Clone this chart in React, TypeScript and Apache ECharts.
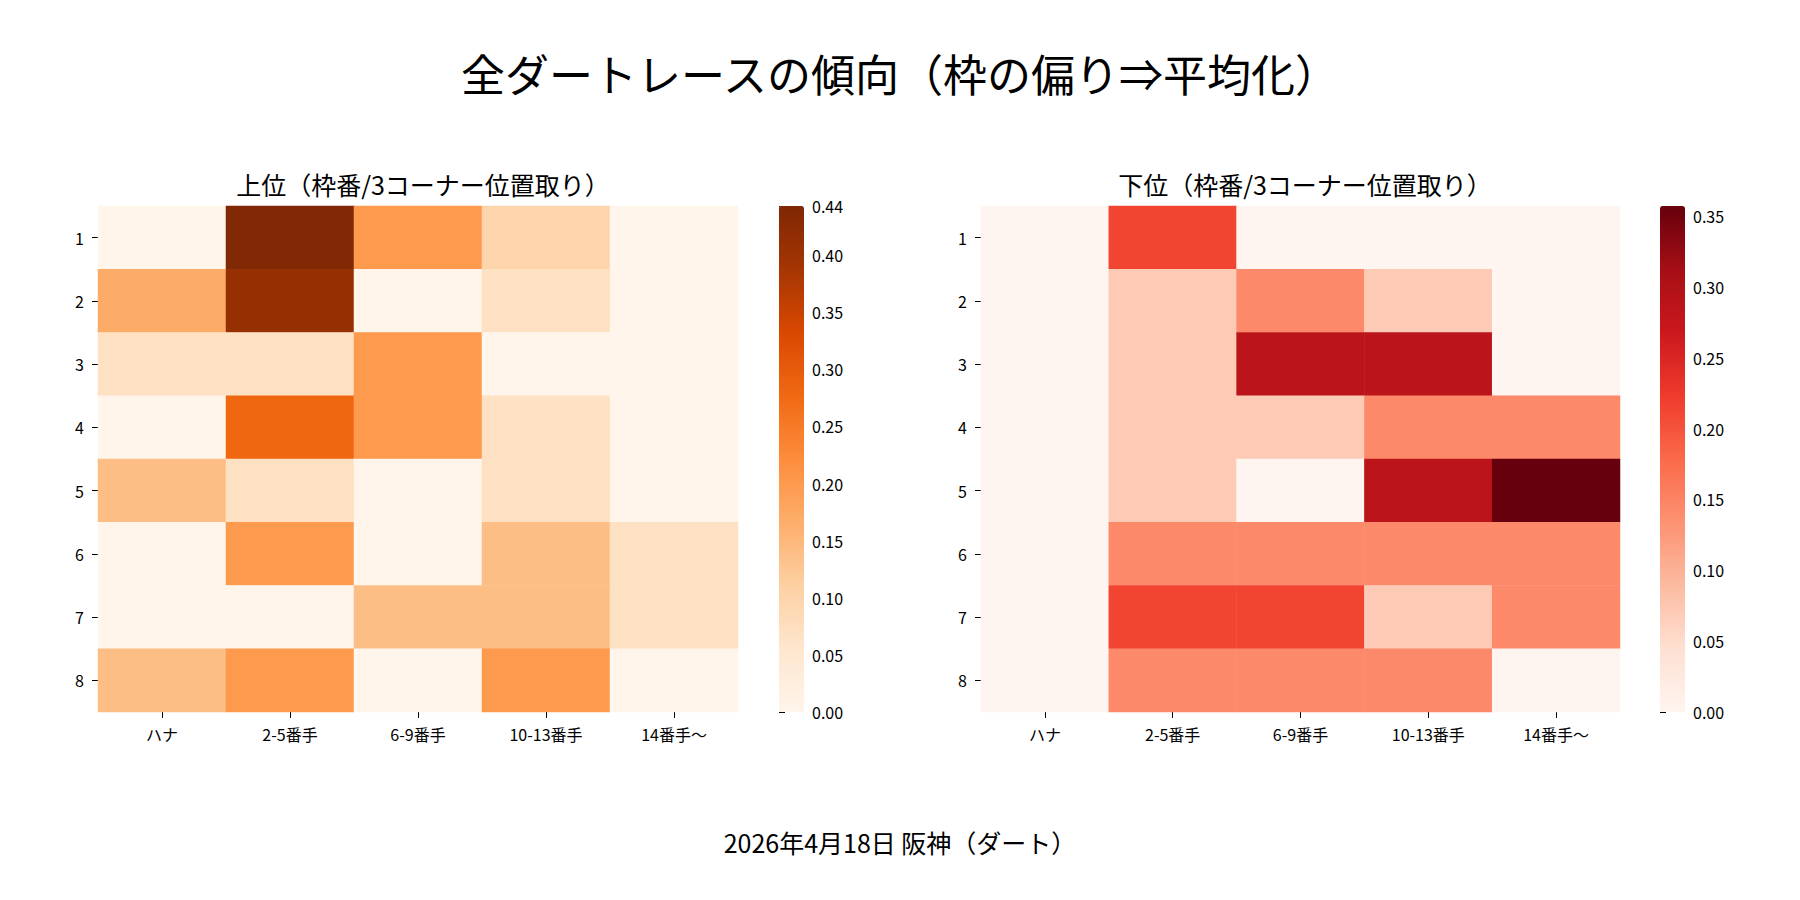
import { useEffect, useRef } from 'react';
import * as echarts from 'echarts';

const cols = ['ハナ', '2-5番手', '6-9番手', '10-13番手', '14番手〜'];
const rows = ['1', '2', '3', '4', '5', '6', '7', '8'];

const upper = [
  [0, 0.44, 0.2, 0.1, 0],
  [0.17, 0.41, 0, 0.07, 0],
  [0.07, 0.07, 0.2, 0, 0],
  [0, 0.28, 0.2, 0.07, 0],
  [0.14, 0.07, 0, 0.07, 0],
  [0, 0.2, 0, 0.14, 0.07],
  [0, 0, 0.14, 0.14, 0.07],
  [0.14, 0.2, 0, 0.2, 0],
];
const lower = [
  [0, 0.214, 0, 0, 0],
  [0, 0.071, 0.143, 0.071, 0],
  [0, 0.071, 0.286, 0.286, 0],
  [0, 0.071, 0.071, 0.143, 0.143],
  [0, 0.071, 0, 0.286, 0.357],
  [0, 0.143, 0.143, 0.143, 0.143],
  [0, 0.214, 0.214, 0.071, 0.143],
  [0, 0.143, 0.143, 0.143, 0],
];
const upperMax = 0.443;
const lowerMax = 0.357;

const oranges = ['#fff5eb', '#fee6ce', '#fdd0a2', '#fdae6b', '#fd8d3c', '#f16913', '#d94801', '#a63603', '#7f2704'];
const reds = ['#fff5f0', '#fee0d2', '#fcbba1', '#fc9272', '#fb6a4a', '#ef3b2c', '#cb181d', '#a50f15', '#67000d'];

const FONT = '"Noto Sans CJK JP", "Noto Sans", sans-serif';

const toCells = (m: number[][]) =>
  m.flatMap((r, ri) => r.map((v, ci) => [ci, ri, v]));

export default function App() {
  const ref = useRef<HTMLDivElement>(null);

  useEffect(() => {
    if (!ref.current) return;
    const chart = echarts.init(ref.current, null, { renderer: 'svg' });

    const top = 198;
    const h = 506;
    const heatGrids = [
      { left: 90, top, width: 640, height: h },
      { left: 973, top, width: 639, height: h },
    ];
    const barGrids = [
      { left: 771, top, width: 25, height: h },
      { left: 1652, top, width: 25, height: h },
    ];
    const axisLabel = { color: '#000', fontSize: 16, fontFamily: FONT };
    const tickStyle = { show: true, length: 6, lineStyle: { color: '#000' } };

    const option: echarts.EChartsOption = {
      animation: false,
      textStyle: { fontFamily: FONT },
      title: [
        { text: '全ダートレースの傾向（枠の偏り⇒平均化）', left: 'center', top: 38, textStyle: { fontSize: 44, fontWeight: 'normal', color: '#000', fontFamily: FONT } },
        { text: '上位（枠番/3コーナー位置取り）', left: 410, textAlign: 'center', top: 158, textStyle: { fontSize: 25, fontWeight: 'normal', color: '#000', fontFamily: FONT } },
        { text: '下位（枠番/3コーナー位置取り）', left: 1292, textAlign: 'center', top: 158, textStyle: { fontSize: 25, fontWeight: 'normal', color: '#000', fontFamily: FONT } },
        { text: '2026年4月18日 阪神（ダート）', left: 'center', top: 816, textStyle: { fontSize: 25, fontWeight: 'normal', color: '#000', fontFamily: FONT } },
      ],
      grid: [...heatGrids, ...barGrids],
      xAxis: [
        ...[0, 1].map((i) => ({
          type: 'category' as const, gridIndex: i, data: cols,
          axisLine: { show: false }, axisTick: { ...tickStyle, alignWithLabel: true },
          axisLabel: { ...axisLabel, margin: 14 }, splitLine: { show: false },
        })),
        ...[2, 3].map((i) => ({ type: 'value' as const, gridIndex: i, show: false })),
      ],
      yAxis: [
        ...[0, 1].map((i) => ({
          type: 'category' as const, gridIndex: i, data: rows, inverse: true,
          axisLine: { show: false }, axisTick: { ...tickStyle, alignWithLabel: true },
          axisLabel: { ...axisLabel, margin: 14 }, splitLine: { show: false },
        })),
        ...[[2, upperMax], [3, lowerMax]].map(([i, mx]) => ({
          type: 'value' as const, gridIndex: i, min: 0, max: mx, interval: 0.05, position: 'right' as const,
          axisLine: { show: false }, axisTick: tickStyle, splitLine: { show: false },
          axisLabel: { ...axisLabel, formatter: (v: number) => v.toFixed(2) },
        })),
      ],
      visualMap: [
        {
          type: 'continuous', seriesIndex: 0, min: 0, max: upperMax, inRange: { color: oranges },
          left: 771, top, itemWidth: 25, itemHeight: h, padding: 0, text: ['', ''], calculable: false, showLabel: false,
        },
        {
          type: 'continuous', seriesIndex: 1, min: 0, max: lowerMax, inRange: { color: reds },
          left: 1652, top, itemWidth: 25, itemHeight: h, padding: 0, text: ['', ''], calculable: false, showLabel: false,
        },
      ],
      series: [
        { type: 'heatmap', xAxisIndex: 0, yAxisIndex: 0, data: toCells(upper), emphasis: { disabled: true } },
        { type: 'heatmap', xAxisIndex: 1, yAxisIndex: 1, data: toCells(lower), emphasis: { disabled: true } },
      ],
    };
    chart.setOption(option);
    return () => chart.dispose();
  }, []);

  return <div ref={ref} style={{ width: 1784, height: 884 }} />;
}
